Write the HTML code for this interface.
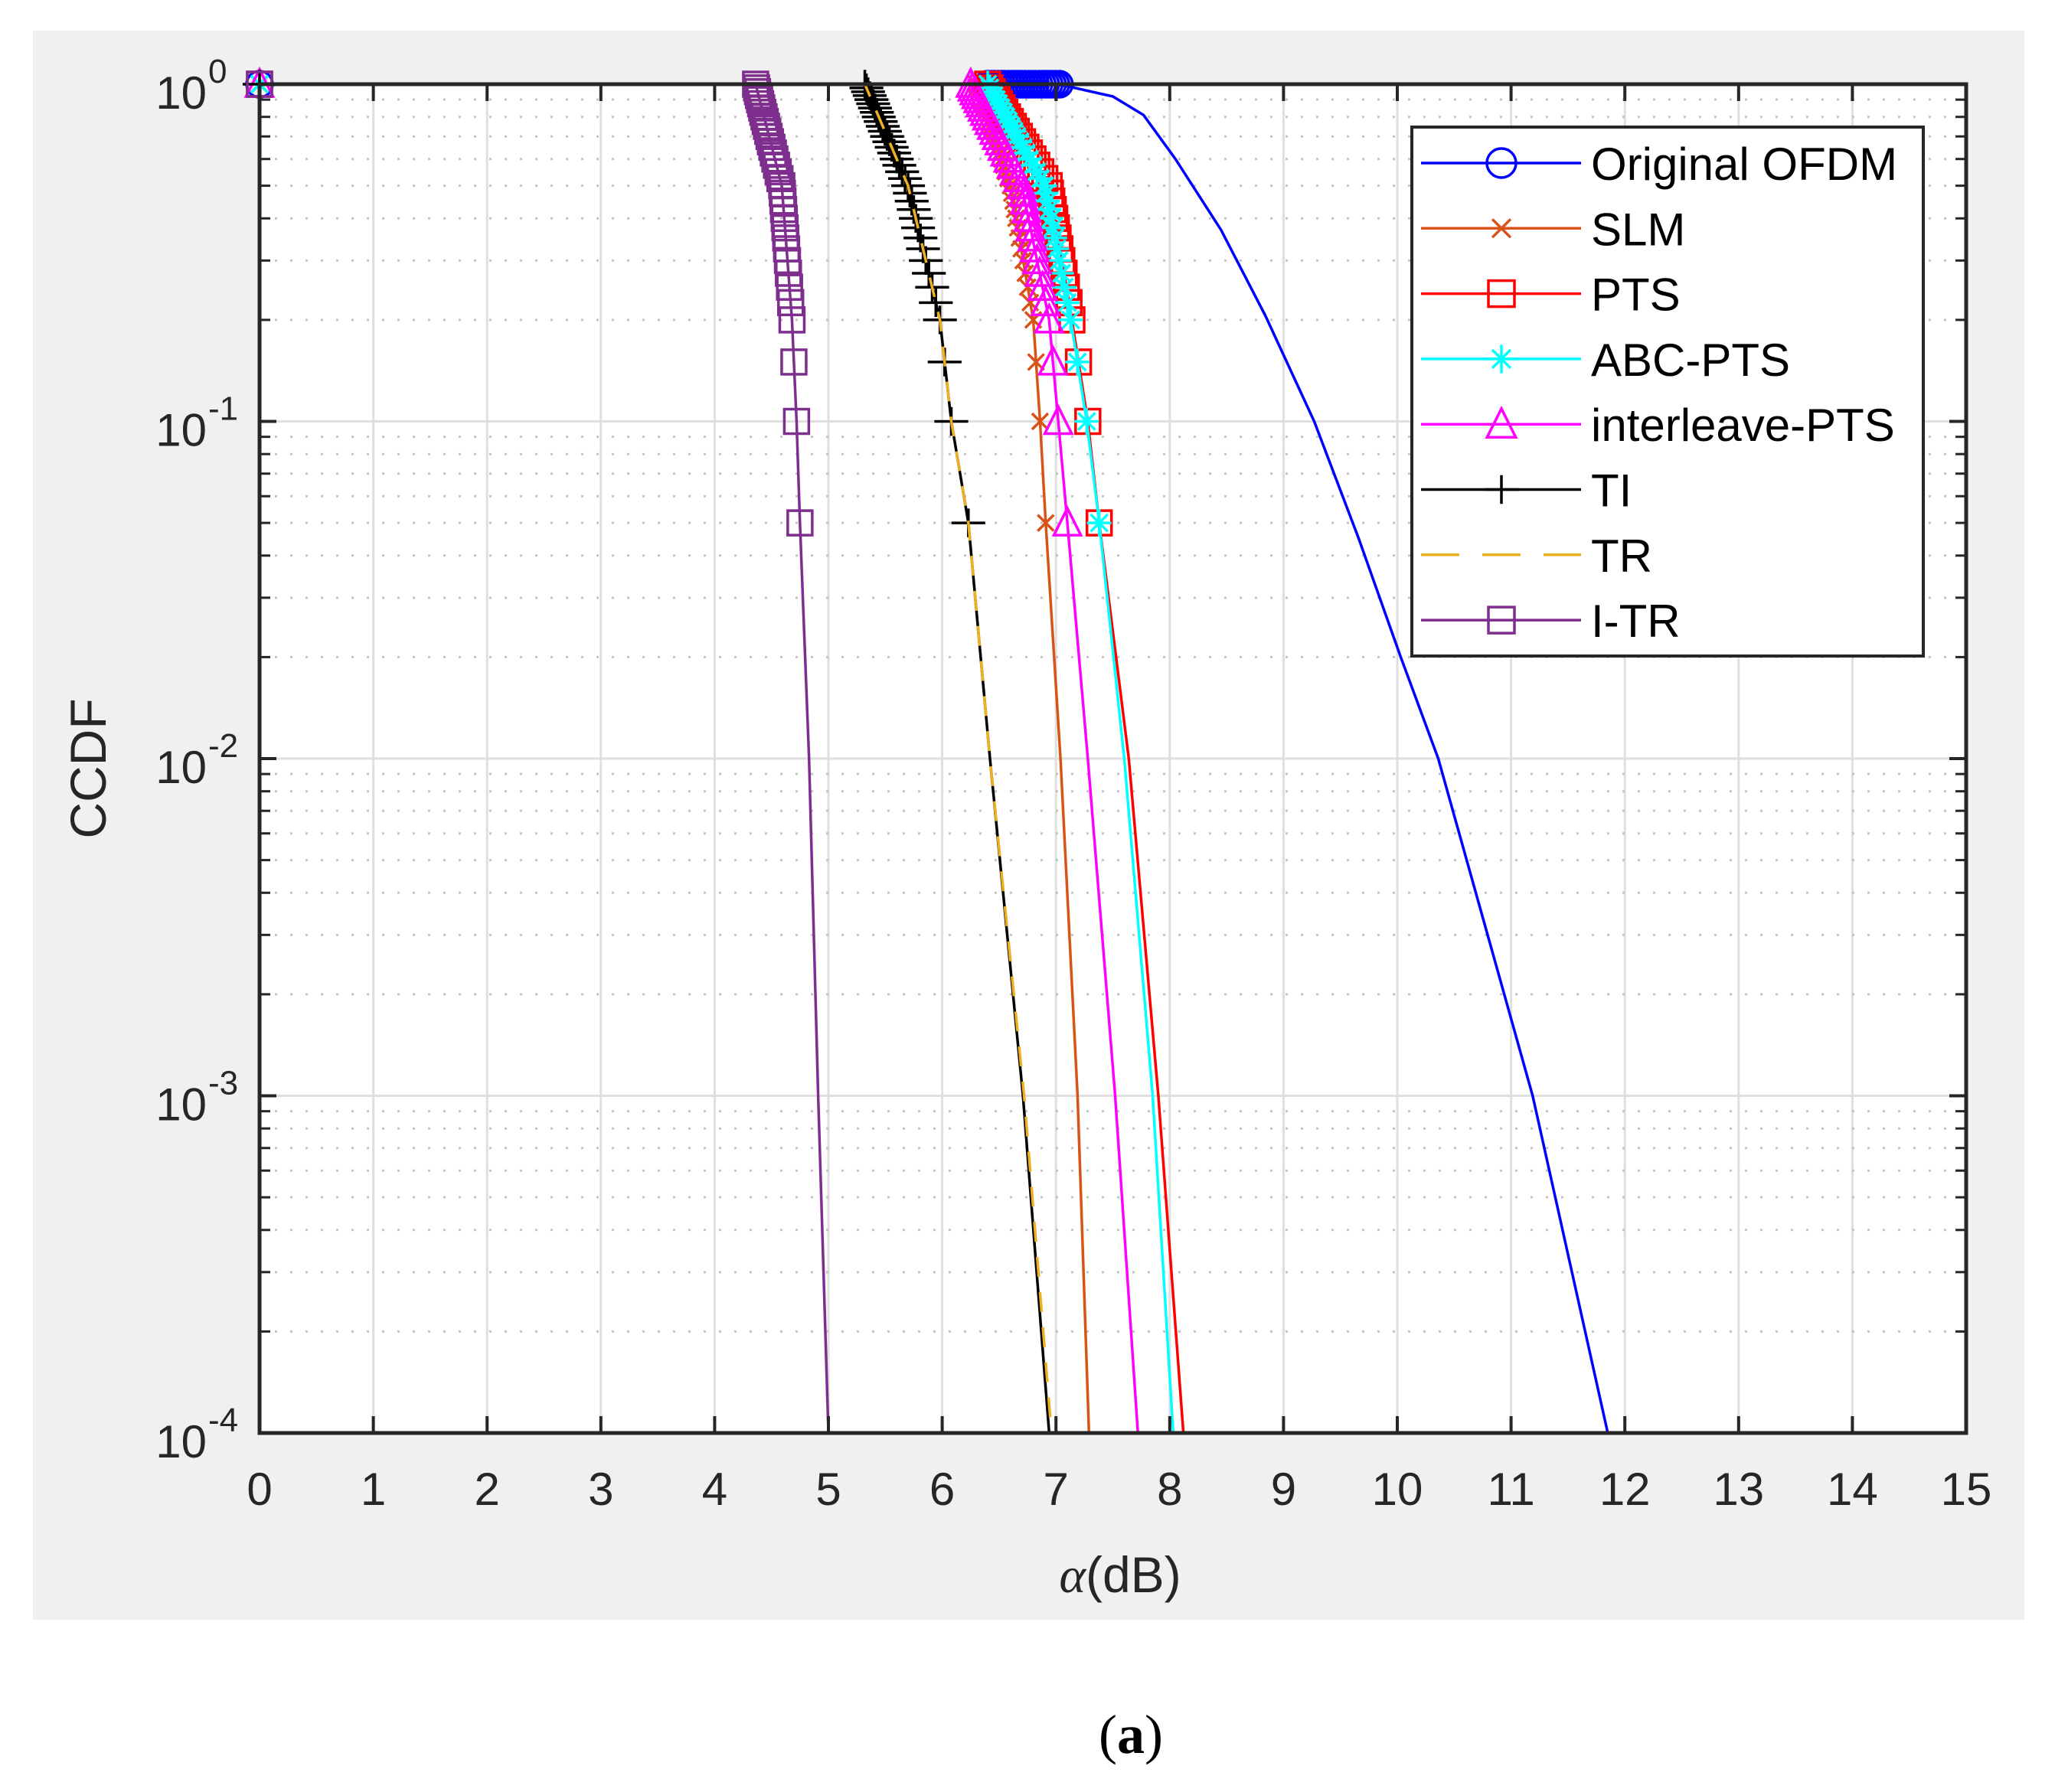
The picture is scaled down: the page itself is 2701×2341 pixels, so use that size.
<!DOCTYPE html>
<html><head><meta charset="utf-8"><style>
html,body{margin:0;padding:0;background:#fff;}
svg{display:block;font-family:"Liberation Sans",Arial,sans-serif;}
</style></head><body>
<svg id="chart" width="2701" height="2341" viewBox="0 0 2701 2341" xmlns="http://www.w3.org/2000/svg">
<rect x="43" y="40" width="2601" height="2076" fill="#f0f0f0"/>
<rect x="339" y="110" width="2229" height="1762" fill="#fff"/>
<g id="grid"></g>
<g id="series"></g>
<g id="axes"></g>
<text x="1463" y="2080" font-size="66" text-anchor="middle" fill="#262626"><tspan font-family="Liberation Serif,serif" font-style="italic">α</tspan>(dB)</text>
<text x="0" y="0" font-size="66" text-anchor="middle" fill="#262626" transform="translate(138,1004) rotate(-90)">CCDF</text>
<text x="1477" y="2290" font-size="72" text-anchor="middle" font-family="Liberation Serif,serif" fill="#000">(<tspan font-weight="bold">a</tspan>)</text>
<g id="legend"></g>
</svg>
<script>
// ---- data (x in dB, p = CCDF) ----
const xTicks = [0,1,2,3,4,5,6,7,8,9,10,11,12,13,14,15];
const yDecades = [0,-1,-2,-3,-4];
const seriesNames = ["Original OFDM","SLM","PTS","ABC-PTS","interleave-PTS","TI","TR","I-TR"];
const ofdmX = [0,6.4,7.05,7.5,7.77,8.05,8.45,8.84,9.27,9.66,10.03,10.36,11.19,11.85];
const ofdmP = [1,1,0.995,0.92,0.81,0.6,0.37,0.206,0.1,0.045,0.02,0.01,0.001,0.0001];
const ofdmMarkerX = [0,6.4,6.43,6.46,6.49,6.52,6.55,6.58,6.61,6.64,6.67,6.7,6.73,6.76,6.79,6.82,6.85,6.88,6.91,6.94,6.97,7.0,7.03];
const slmX = [0,6.3,6.6,6.8,6.86,6.91,7.04,7.19,7.29];
const slmP = [1,1,0.5,0.2,0.1,0.05,0.01,0.001,0.0001];
const ptsX = [0,6.4,6.94,7.14,7.28,7.38,7.64,7.9,8.12];
const ptsP = [1,1,0.5,0.2,0.1,0.05,0.01,0.001,0.0001];
const abcX = [0,6.4,6.9,7.13,7.27,7.38,7.6,7.85,8.03];
const abcP = [1,1,0.5,0.2,0.1,0.05,0.01,0.001,0.0001];
const ilX = [0,6.25,6.7,6.94,7.02,7.1,7.28,7.52,7.72];
const ilP = [1,1,0.5,0.2,0.1,0.05,0.01,0.001,0.0001];
const tiX = [0,5.32,5.7,5.98,6.08,6.23,6.42,6.71,6.94];
const tiP = [1,1,0.5,0.2,0.1,0.05,0.01,0.001,0.0001];
const trX = [0,5.32,5.7,5.98,6.08,6.23,6.42,6.72,6.96];
const trP = [1,1,0.5,0.2,0.1,0.05,0.01,0.001,0.0001];
const itrX = [0,4.36,4.59,4.68,4.72,4.75,4.83,4.91,5.0];
const itrP = [1,1,0.5,0.2,0.1,0.05,0.01,0.001,0.0001];
const markerLevels = [1,0.975,0.95,0.925,0.9,0.875,0.85,0.825,0.8,0.775,0.75,0.725,0.7,0.675,0.65,0.625,0.6,0.575,0.55,0.525,0.5,0.475,0.45,0.425,0.4,0.375,0.35,0.325,0.3,0.275,0.25,0.225,0.2,0.15,0.1,0.05];

// ---- layout ----
const L=339,R=2568,T=110,B=1872;
const NS="http://www.w3.org/2000/svg";
function sx(x){return L+(x-0)/(15-0)*(R-L);}
function sy(p){return T+(0-Math.log10(p))/4*(B-T);}
function mk(tag,attrs,parent){const e=document.createElementNS(NS,tag);for(const k in attrs)e.setAttribute(k,attrs[k]);parent.appendChild(e);return e;}
const grid=document.getElementById('grid'),axes=document.getElementById('axes'),ser=document.getElementById('series'),leg=document.getElementById('legend');

// grid
xTicks.forEach(v=>{if(v>0&&v<15){const g=mk('line',{x1:sx(v),x2:sx(v),y1:T,y2:B,stroke:'#dfdfdf','stroke-width':3},grid);

}});
yDecades.forEach(d=>{
 if(d<0&&d>-4){const g=mk('line',{x1:L,x2:R,y1:sy(Math.pow(10,d)),y2:sy(Math.pow(10,d)),stroke:'#dfdfdf','stroke-width':3},grid);
 
 }
 if(d>-4){for(let m=2;m<=9;m++){const p=m*Math.pow(10,d-1);const y=sy(p);
  const g=mk('line',{x1:L,x2:R,y1:y,y2:y,stroke:'#c4c4c4','stroke-width':3,'stroke-dasharray':'3 17'},grid);
  
  
  const t1=mk('line',{x1:L,x2:L+14,y1:y,y2:y,stroke:'#262626','stroke-width':3},axes);
  
  
  const t2=mk('line',{x1:R-14,x2:R,y1:y,y2:y,stroke:'#262626','stroke-width':3},axes);
  
  }}
});

// series helpers
function path(xs,ps){return xs.map((x,i)=>(i?'L':'M')+sx(x).toFixed(1)+','+sy(ps[i]).toFixed(1)).join(' ');}
function xAt(xs,ps,lvl){
 if(lvl>=1){let xi=xs[0];for(let i=0;i<ps.length;i++)if(ps[i]>=1)xi=xs[i];return xi;}
 for(let i=1;i<ps.length;i++){if(ps[i]<=lvl&&ps[i-1]>lvl){const a=Math.log10(ps[i-1]),b=Math.log10(ps[i]),t=(Math.log10(lvl)-a)/(b-a);return xs[i-1]+t*(xs[i]-xs[i-1]);}}
 return null;}
function marker(type,color,cx,cy,g,size){
 const s=size||14;let e;
 if(type==='o'){e=mk('circle',{cx,cy,r:s,fill:'none',stroke:color,'stroke-width':3.5},g);}
 else if(type==='s'){e=mk('rect',{x:cx-s,y:cy-s,width:2*s,height:2*s,fill:'none',stroke:color,'stroke-width':3.5},g);}
 else if(type==='^'){e=mk('path',{d:`M${cx},${cy-s*1.2} L${cx+s*1.1},${cy+s} L${cx-s*1.1},${cy+s} Z`,fill:'none',stroke:color,'stroke-width':3.5},g);}
 else if(type==='x'){e=mk('path',{d:`M${cx-s*.7},${cy-s*.7} L${cx+s*.7},${cy+s*.7} M${cx+s*.7},${cy-s*.7} L${cx-s*.7},${cy+s*.7}`,stroke:color,'stroke-width':3.5},g);}
 else if(type==='+'){e=mk('path',{d:`M${cx-s*1.3},${cy} L${cx+s*1.3},${cy} M${cx},${cy-s*1.1} L${cx},${cy+s*1.1}`,stroke:color,'stroke-width':3.5},g);}
 else if(type==='*'){e=mk('path',{d:`M${cx-s},${cy} L${cx+s},${cy} M${cx},${cy-s*1.1} L${cx},${cy+s*1.1} M${cx-s*.7},${cy-s*.7} L${cx+s*.7},${cy+s*.7} M${cx+s*.7},${cy-s*.7} L${cx-s*.7},${cy+s*.7}`,stroke:color,'stroke-width':3.5},g);}
 return e;}

const defs=[
 {n:'ofdm',xs:ofdmX,ps:ofdmP,c:'#0000ff',m:'o',dash:null,ms:17},
 {n:'slm',xs:slmX,ps:slmP,c:'#d95319',m:'x',dash:null,ms:15},
 {n:'pts',xs:ptsX,ps:ptsP,c:'#ff0000',m:'s',dash:null,ms:16},
 {n:'abc-pts',xs:abcX,ps:abcP,c:'#00ffff',m:'*',dash:null,ms:16},
 {n:'interleave-pts',xs:ilX,ps:ilP,c:'#ff00ff',m:'^',dash:null,ms:16},
 {n:'ti',xs:tiX,ps:tiP,c:'#000000',m:'+',dash:null,ms:17},
 {n:'tr',xs:trX,ps:trP,c:'#edb120',m:null,dash:'26 20',ms:0},
 {n:'i-tr',xs:itrX,ps:itrP,c:'#7e2f8e',m:'s',dash:null,ms:16}
];
defs.forEach(d=>{
 const g=mk('g',{},ser);
 
 
 const a={d:path(d.xs,d.ps),fill:'none',stroke:d.c,'stroke-width':3.5};
 if(d.dash)a['stroke-dasharray']=d.dash;
 const ln=mk('path',a,g);
 
 
 if(!d.m)return;
 let pts=[];
 if(d.n==='ofdm'){ofdmMarkerX.forEach(x=>pts.push([x,1]));}
 else{pts.push([d.xs[0],d.ps[0]]);markerLevels.forEach(l=>{const x=xAt(d.xs,d.ps,l);if(x!==null)pts.push([x,l]);});}
 pts.forEach(p=>{const e=marker(d.m,d.c,sx(p[0]),sy(p[1]),g,d.ms);
  
  });
});

// axes box & ticks
const box=mk('rect',{x:L,y:T,width:R-L,height:B-T,fill:'none',stroke:'#262626','stroke-width':5},axes);


xTicks.forEach(v=>{const x=sx(v);
 const t=mk('line',{x1:x,x2:x,y1:B,y2:B-22,stroke:'#262626','stroke-width':4},axes);
 
 
 const t2=mk('line',{x1:x,x2:x,y1:T,y2:T+22,stroke:'#262626','stroke-width':4},axes);
 
 
 const tx=mk('text',{x:x,y:1966,'font-size':60,'text-anchor':'middle',fill:'#262626'},axes);
 tx.textContent=String(v);
 
 });
yDecades.forEach(d=>{const y=sy(Math.pow(10,d));
 const t=mk('line',{x1:L,x2:L+22,y1:y,y2:y,stroke:'#262626','stroke-width':4},axes);
 
 
 const t2=mk('line',{x1:R-22,x2:R,y1:y,y2:y,stroke:'#262626','stroke-width':4},axes);
 
 
 const tx=mk('text',{x:270,y:y+32,'font-size':60,'text-anchor':'end',fill:'#262626'},axes);
 tx.textContent='10';
 
 
 const sp=mk('text',{x:272,y:y-2,'font-size':44,'text-anchor':'start',fill:'#262626'},axes);
 sp.textContent=d===0?'0':'-'+(-d);
 
 });

// legend
const lb=mk('rect',{x:1844,y:166,width:668,height:691,fill:'#fff',stroke:'#262626','stroke-width':4},leg);


seriesNames.forEach((nm,i)=>{const y=213+i*85.3;const d=defs[i];
 const g=mk('g',{},leg);
 
 
 const a={x1:1856,x2:2065,y1:y,y2:y,stroke:d.c,'stroke-width':3.5};
 if(d.dash)a['stroke-dasharray']='50 30';
 mk('line',a,g);
 if(d.m)marker(d.m,d.c,1961,y,g,d.m==='o'?19:17);
 const t=mk('text',{x:2078,y:y+22,'font-size':60,fill:'#000'},g);
 t.textContent=nm;});
</script>
</body></html>
